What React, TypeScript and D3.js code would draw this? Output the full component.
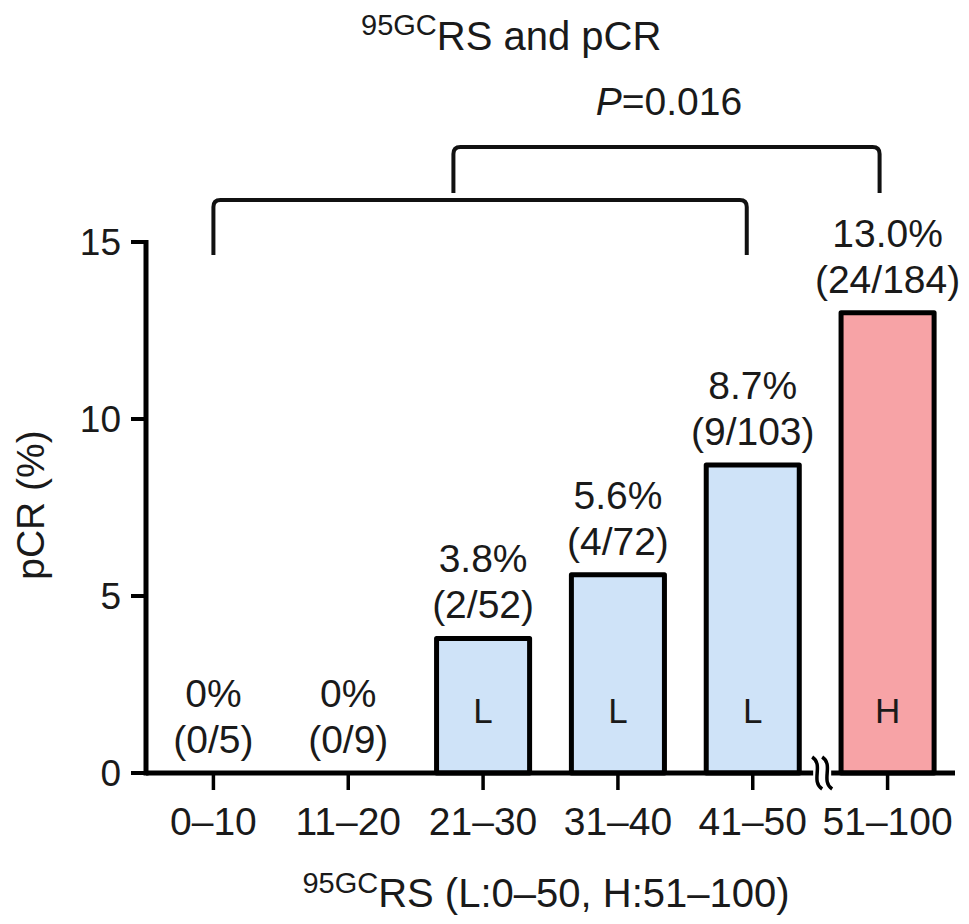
import * as d3 from 'd3';

const categories = ['0–10', '11–20', '21–30', '31–40', '41–50', '51–100'];
const pcrValues = [0, 0, 3.8, 5.6, 8.7, 13.0];
const pctLabels = ['0%', '0%', '3.8%', '5.6%', '8.7%', '13.0%'];
const countLabels = ['(0/5)', '(0/9)', '(2/52)', '(4/72)', '(9/103)', '(24/184)'];
const groupLabels = ['', '', 'L', 'L', 'L', 'H'];
const yTicks = [0, 5, 10, 15];

const FONT = '"Liberation Sans", Arial, Helvetica, sans-serif';
const BLUE = '#cfe3f8';
const PINK = '#f7a3a6';

export default function App() {
  const width = 969;
  const height = 924;
  const axisX = 146;
  const axisRight = 955;

  const x = d3.scaleBand<string>()
    .domain(categories)
    .range([axisX, axisRight])
    .paddingInner(0.31)
    .paddingOuter(0.155);

  const y = d3.scaleLinear().domain([0, 15]).range([773, 242]);
  const y0 = y(0);
  const bw = x.bandwidth();
  const cx = (c: string) => (x(c) as number) + bw / 2;

  // break marker between 41–50 and 51–100
  const breakX = ((x('41–50') as number) + bw + (x('51–100') as number)) / 2 + 2;
  const squiggle = (ox: number) => {
    const p = d3.path();
    p.moveTo(ox - 5, y0 - 16);
    p.bezierCurveTo(ox + 7, y0 - 8, ox - 7, y0 + 8, ox + 5, y0 + 16);
    return p.toString();
  };

  // significance brackets
  const lowL = cx('0–10');
  const lowR = cx('41–50') - 6;
  const upL = d3.interpolateNumber(lowL, lowR)(0.45);
  const upR = cx('51–100') - 8;
  const bracket = (x1: number, x2: number, top: number, bottom: number) => {
    const r = 7;
    const p = d3.path();
    p.moveTo(x1, bottom);
    p.lineTo(x1, top + r);
    p.quadraticCurveTo(x1, top, x1 + r, top);
    p.lineTo(x2 - r, top);
    p.quadraticCurveTo(x2, top, x2, top + r);
    p.lineTo(x2, bottom);
    return p.toString();
  };

  return (
    <svg
      width={width}
      height={height}
      style={{ position: 'absolute', left: 0, top: 0, background: '#fff' }}
      fontFamily={FONT}
    >
      {/* title */}
      <text x={361} y={50} fill="#1a1a1a">
        <tspan fontSize={29} dy={-15}>95GC</tspan>
        <tspan fontSize={40} dy={15}>RS and pCR</tspan>
      </text>
      <text x={669} y={115} textAnchor="middle" fontSize={39} fill="#1a1a1a">
        <tspan fontStyle="italic">P</tspan>=0.016
      </text>

      {/* brackets */}
      <path d={bracket(upL, upR, 147, 193)} fill="none" stroke="#111" strokeWidth={4} />
      <path d={bracket(lowL, lowR, 200, 255)} fill="none" stroke="#111" strokeWidth={4} />

      {/* bars */}
      {categories.map((c, i) =>
        pcrValues[i] > 0 ? (
          <rect
            key={c}
            x={x(c)}
            y={y(pcrValues[i])}
            width={bw}
            height={y0 - y(pcrValues[i])}
            fill={groupLabels[i] === 'H' ? PINK : BLUE}
            stroke="#000"
            strokeWidth={5}
            strokeLinejoin="round"
          />
        ) : null
      )}

      {/* group letters */}
      {categories.map((c, i) =>
        groupLabels[i] ? (
          <text key={c} x={cx(c)} y={y0 - 50} textAnchor="middle" fontSize={35} fill="#1a1a1a">
            {groupLabels[i]}
          </text>
        ) : null
      )}

      {/* value labels */}
      {categories.map((c, i) => (
        <g key={c} fontSize={39} fill="#1a1a1a" textAnchor="middle">
          <text x={cx(c)} y={y(pcrValues[i]) - 66}>{pctLabels[i]}</text>
          <text x={cx(c)} y={y(pcrValues[i]) - 20}>{countLabels[i]}</text>
        </g>
      ))}

      {/* x axis */}
      <line x1={axisX} x2={axisRight} y1={y0} y2={y0} stroke="#000" strokeWidth={5} />
      <rect x={breakX - 9} y={y0 - 4} width={18} height={8} fill="#fff" />
      <path d={squiggle(breakX - 5)} fill="none" stroke="#000" strokeWidth={3.5} />
      <path d={squiggle(breakX + 5)} fill="none" stroke="#000" strokeWidth={3.5} />
      {categories.map((c) => (
        <g key={c}>
          <line x1={cx(c)} x2={cx(c)} y1={y0} y2={y0 + 17} stroke="#000" strokeWidth={3.5} />
          <text x={cx(c)} y={835} textAnchor="middle" fontSize={39} fill="#1a1a1a">
            {c}
          </text>
        </g>
      ))}
      <text x={546} y={907} textAnchor="middle" fill="#1a1a1a">
        <tspan fontSize={29} dy={-14}>95GC</tspan>
        <tspan fontSize={40} dy={14}>RS (L:0–50, H:51–100)</tspan>
      </text>

      {/* y axis */}
      <line x1={axisX} x2={axisX} y1={y(15) - 2} y2={y0 + 2.5} stroke="#000" strokeWidth={5} />
      {yTicks.map((t) => (
        <g key={t}>
          <line x1={131} x2={axisX} y1={y(t)} y2={y(t)} stroke="#000" strokeWidth={4} />
          <text x={121} y={y(t)} dy="0.36em" textAnchor="end" fontSize={37} fill="#1a1a1a">
            {t}
          </text>
        </g>
      ))}
      <text
        transform="translate(44,505) rotate(-90)"
        textAnchor="middle"
        fontSize={39}
        fill="#1a1a1a"
      >
        pCR (%)
      </text>
    </svg>
  );
}
